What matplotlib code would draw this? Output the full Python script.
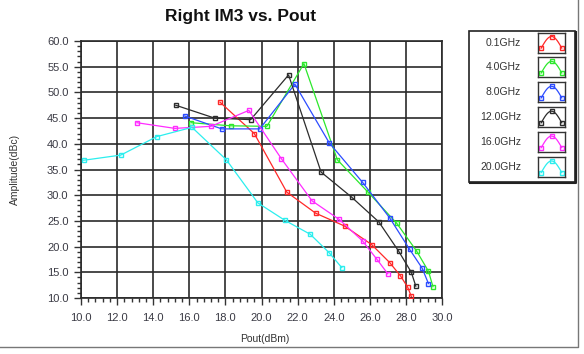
import numpy as np
import matplotlib
matplotlib.use("Agg")
import matplotlib.pyplot as plt
from matplotlib.ticker import MultipleLocator, FormatStrFormatter
from matplotlib.patches import Rectangle
from matplotlib.lines import Line2D

plt.rcParams['font.family'] = ['Liberation Sans', 'DejaVu Sans']

# Pout (dBm) / amplitude (dBc) per frequency
labels = ['0.1GHz', '4.0GHz', '8.0GHz', '12.0GHz', '16.0GHz', '20.0GHz']
colors = ['#ff2828', '#2ce82c', '#2c4cff', '#2c2c2c', '#ff2cff', '#2ceeee']

pout_01 = [17.7, 19.6, 21.4, 23.0, 24.6, 26.1, 27.1, 27.7, 28.1, 28.3]
im3_01 = [48.1, 42.0, 30.6, 26.5, 24.0, 20.4, 16.9, 14.3, 12.1, 10.3]

pout_4 = [16.1, 18.3, 20.3, 22.35, 24.2, 25.9, 27.5, 28.6, 29.25, 29.5]
im3_4 = [44.1, 43.5, 43.4, 55.6, 36.9, 30.6, 24.5, 19.1, 15.2, 12.2]

pout_8 = [15.75, 17.8, 19.9, 21.85, 23.75, 25.6, 27.1, 28.2, 28.9, 29.25]
im3_8 = [45.4, 42.9, 42.9, 51.6, 40.2, 32.5, 25.6, 19.5, 15.8, 12.8]

pout_12 = [15.25, 17.4, 19.4, 21.5, 23.3, 25.0, 26.5, 27.6, 28.3, 28.55]
im3_12 = [47.5, 45.0, 44.7, 53.4, 34.5, 29.6, 24.8, 19.1, 15.0, 12.3]

pout_16 = [13.1, 15.2, 17.2, 19.3, 21.1, 22.8, 24.3, 25.6, 26.4, 27.0]
im3_16 = [44.1, 43.0, 43.4, 46.5, 37.1, 28.9, 25.3, 21.1, 17.5, 14.7]

pout_20 = [10.15, 12.2, 14.2, 16.15, 18.05, 19.8, 21.3, 22.7, 23.75, 24.45]
im3_20 = [36.8, 37.8, 41.4, 43.2, 36.9, 28.5, 25.1, 22.4, 18.8, 15.9]

series = [(pout_01, im3_01), (pout_4, im3_4), (pout_8, im3_8),
          (pout_12, im3_12), (pout_16, im3_16), (pout_20, im3_20)]

fig = plt.figure(figsize=(5.84, 3.54), dpi=100)
ax = fig.add_axes([81 / 584, 1 - 298 / 354, 361 / 584, 257 / 354])

for (x, y), c in zip(series, colors):
    ax.plot(x, y, color=c, lw=0.9, marker='s', ms=3.5, mfc='none',
            mec=c, mew=1.0, zorder=3)

ax.set_xlim(10, 30)
ax.set_ylim(10, 60)
ax.xaxis.set_major_locator(MultipleLocator(2))
ax.xaxis.set_minor_locator(MultipleLocator(0.4))
ax.yaxis.set_major_locator(MultipleLocator(5))
ax.yaxis.set_minor_locator(MultipleLocator(1))
ax.xaxis.set_major_formatter(FormatStrFormatter('%.1f'))
ax.yaxis.set_major_formatter(FormatStrFormatter('%.1f'))
ax.grid(True, which='major', color='#2a2a2a', lw=1.2)
ax.tick_params(which='major', length=5, width=1.0, color='#333333',
               labelsize=8, labelcolor='#3a3a44', pad=4)
ax.tick_params(axis='x', which='major', pad=6)
ax.tick_params(which='minor', length=3, width=1.0, color='#333333')
for s in ax.spines.values():
    s.set_color('#2a2a2a')
    s.set_linewidth(1.2)

ax.set_xlabel('Pout(dBm)', fontsize=7.5, color='#333333')
ax.set_ylabel('Amplitude(dBc)', fontsize=7.5, color='#333333')
ax.xaxis.set_label_coords(0.51, -0.14)
ax.yaxis.set_label_coords(-0.17, 0.5)

fig.text(241 / 584, 1 - 17 / 354, 'Right IM3 vs. Pout', fontsize=12.5,
         fontweight='bold', ha='center', va='center', color='#111111')

# legend box with icons on the right
fig.patches.append(Rectangle((469 / 584, 1 - 182 / 354), 106 / 584, 151 / 354,
                             transform=fig.transFigure, fill=False,
                             ec='#222222', lw=1.2))
fig.lines.append(Line2D([470 / 584, 576 / 584, 576 / 584],
                        [1 - 183 / 354, 1 - 183 / 354, 1 - 32 / 354],
                        transform=fig.transFigure, color='#222222', lw=1.5))
hx = np.linspace(0.12, 0.88, 30)
hy = 0.22 + 0.58 * np.sin(np.pi * (hx - 0.12) / 0.76)
for i, (lab, c) in enumerate(zip(labels, colors)):
    yc = 42.5 + 24.9 * i
    fig.text(521 / 584, 1 - yc / 354, lab, fontsize=7.5, ha='right',
             va='center', color='#333333')
    iax = fig.add_axes([538 / 584, 1 - (yc + 10) / 354, 27 / 584, 20 / 354])
    iax.plot(hx, hy, color=c, lw=0.9, marker='s', ms=3, mfc='none',
             mec=c, markevery=[0, 15, 29])
    iax.set_xlim(0, 1)
    iax.set_ylim(0, 1)
    iax.set_xticks([])
    iax.set_yticks([])
    for s in iax.spines.values():
        s.set_color('#333333')
        s.set_linewidth(1.0)

# window border on right and bottom
fig.lines.append(Line2D([0, 578 / 584, 578 / 584], [1 - 347 / 354, 1 - 347 / 354, 1],
                        transform=fig.transFigure, color='#777777', lw=1.0))

fig.savefig('out.png', dpi=100)
